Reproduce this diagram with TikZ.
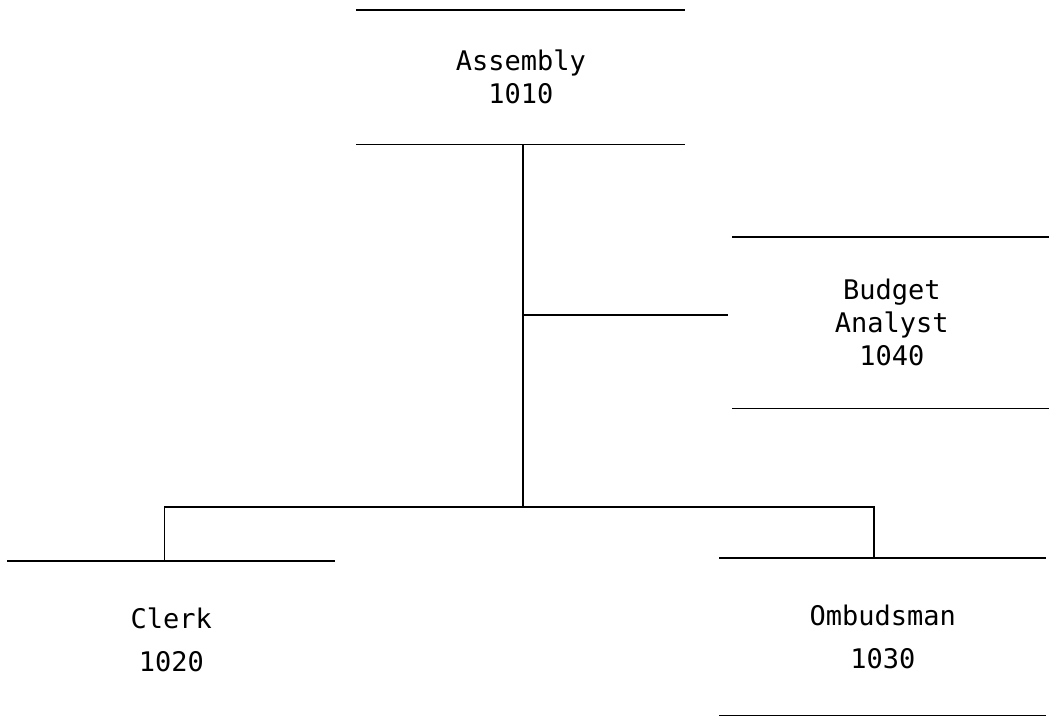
\documentclass[tikz,border=0pt]{standalone}
\usepackage{fontspec}
\newfontfamily\chartfont{DejaVu Sans Mono}

\tikzset{
    post/.style={inner sep=0pt, anchor=north west, align=center,
        font=\chartfont\fontsize{27}{33}\selectfont},
}

\begin{document}
\begin{tikzpicture}[x=1pt, y=-1pt, line width=1.6pt, line cap=rect]

    \useasboundingbox (0, 0) rectangle (1049, 725);

    % --- 1. Stellen (Kasten nur mit oberer/unterer Linie) ---
    \node[post, minimum width=326pt, minimum height=133pt] (asm) at (357, 10) {Assembly\\1010};
    \node[post, minimum width=316pt, minimum height=170pt] (bud) at (733, 237) {Budget\\Analyst\\1040};
    \node[post, minimum width=325pt, minimum height=156pt] (clk) at (8, 561) {Clerk\\[10pt]1020};
    \node[post, minimum width=324pt, minimum height=156pt] (omb) at (720, 558) {Ombudsman\\[10pt]1030};

    \draw (asm.north west) -- (asm.north east);
    \draw (asm.south west) -- (asm.south east);
    \draw (bud.north west) -- (bud.north east);
    \draw (bud.south west) -- (bud.south east);
    \draw (clk.north west) -- (clk.north east); % Clerk: keine untere Linie
    \draw (omb.north west) -- (omb.north east);
    \draw (omb.south west) -- (omb.south east);

    % --- 2. Verbindungen ---
    \coordinate (tap) at ([xshift=2pt]asm.south |- 0, 315);
    \coordinate (hub) at ([xshift=2pt]asm.south |- 0, 507);
    \draw ([xshift=2pt]asm.south) -- (hub);
    \draw[shorten >=6pt] (tap) -- (tap -| bud.west);
    \draw ([xshift=-7pt]clk.north) |- (hub);
    \draw ([xshift=-9pt]omb.north) |- (hub);

\end{tikzpicture}
\end{document}
